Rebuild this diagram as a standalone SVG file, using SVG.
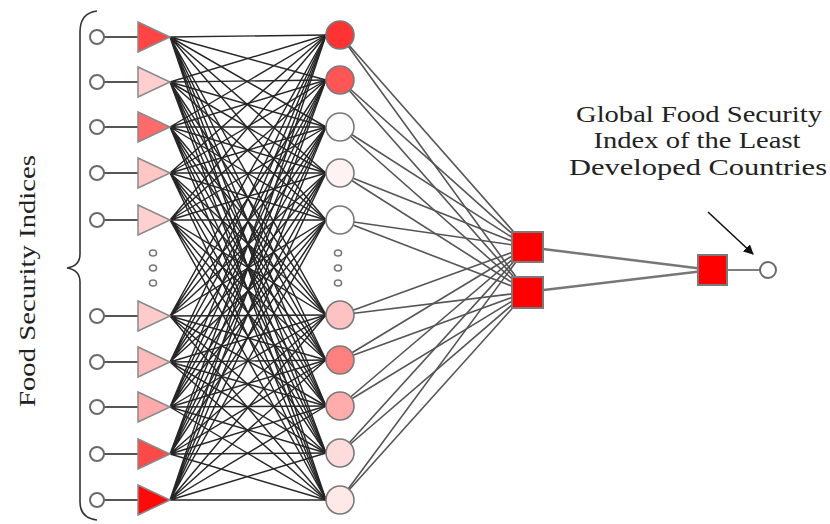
<svg xmlns="http://www.w3.org/2000/svg" width="830" height="524" viewBox="0 0 830 524">
<defs>
<style>
.lbl{font-family:"Liberation Serif","Times New Roman",serif;font-size:24px;fill:#222}
.in{fill:#fff;stroke:#6a6a6a;stroke-width:2}
.tri{stroke:#8a8a8a;stroke-width:1.5}
.hid{stroke:#7a7a7a;stroke-width:1.6}
.sq{fill:#ff0000;stroke:#7a7a7a;stroke-width:2}
.dot{fill:#fff;stroke:#777;stroke-width:1.6}
.w1{fill:none;stroke:#262626;stroke-width:1.45}
.w2{fill:none;stroke:#555;stroke-width:1.6}
.w3{fill:none;stroke:#777;stroke-width:2.5}
.w0{fill:none;stroke:#555;stroke-width:1.8}
</style>
<marker id="ah" markerWidth="10" markerHeight="10" refX="9" refY="5" orient="auto" markerUnits="userSpaceOnUse" viewBox="0 0 10 10">
<polygon points="0,0 10,5 0,10" fill="#111"/>
</marker>
</defs>
<rect width="830" height="524" fill="#fff"/>

<g id="connectors">
<path class="w0" d="M104 37 138 37M104 82 138 82M104 127 138 127M104 173 138 173M104 220 138 220M104 316 138 316M104 362 138 362M104 407 138 407M104 454 138 454M104 500 138 500"/>
<path class="w1" d="M170 37 326 35M170 37 326 80M170 37 326 127M170 37 326 173M170 37 326 220M170 37 326 315M170 37 326 360M170 37 326 406M170 37 326 453M170 37 326 500"/>
<path class="w1" d="M170 82 326 35M170 82 326 80M170 82 326 127M170 82 326 173M170 82 326 220M170 82 326 315M170 82 326 360M170 82 326 406M170 82 326 453M170 82 326 500"/>
<path class="w1" d="M170 127 326 35M170 127 326 80M170 127 326 127M170 127 326 173M170 127 326 220M170 127 326 315M170 127 326 360M170 127 326 406M170 127 326 453M170 127 326 500"/>
<path class="w1" d="M170 173 326 35M170 173 326 80M170 173 326 127M170 173 326 173M170 173 326 220M170 173 326 315M170 173 326 360M170 173 326 406M170 173 326 453M170 173 326 500"/>
<path class="w1" d="M170 220 326 35M170 220 326 80M170 220 326 127M170 220 326 173M170 220 326 220M170 220 326 315M170 220 326 360M170 220 326 406M170 220 326 453M170 220 326 500"/>
<path class="w1" d="M170 316 326 35M170 316 326 80M170 316 326 127M170 316 326 173M170 316 326 220M170 316 326 315M170 316 326 360M170 316 326 406M170 316 326 453M170 316 326 500"/>
<path class="w1" d="M170 362 326 35M170 362 326 80M170 362 326 127M170 362 326 173M170 362 326 220M170 362 326 315M170 362 326 360M170 362 326 406M170 362 326 453M170 362 326 500"/>
<path class="w1" d="M170 407 326 35M170 407 326 80M170 407 326 127M170 407 326 173M170 407 326 220M170 407 326 315M170 407 326 360M170 407 326 406M170 407 326 453M170 407 326 500"/>
<path class="w1" d="M170 454 326 35M170 454 326 80M170 454 326 127M170 454 326 173M170 454 326 220M170 454 326 315M170 454 326 360M170 454 326 406M170 454 326 453M170 454 326 500"/>
<path class="w1" d="M170 500 326 35M170 500 326 80M170 500 326 127M170 500 326 173M170 500 326 220M170 500 326 315M170 500 326 360M170 500 326 406M170 500 326 453M170 500 326 500"/>
<path class="w2" d="M340 35 527 247M340 80 527 247M340 127 527 247M340 173 527 247M340 220 527 247M340 315 527 247M340 360 527 247M340 406 527 247M340 453 527 247M340 500 527 247"/>
<path class="w2" d="M340 35 527 292M340 80 527 292M340 127 527 292M340 173 527 292M340 220 527 292M340 315 527 292M340 360 527 292M340 406 527 292M340 453 527 292M340 500 527 292"/>
<path class="w3" d="M527 247 712 270M527 292 712 270"/>
<path class="w2" d="M712 270 760 270"/>
<path fill="none" stroke="#111" stroke-width="1.6" d="M708 212 753 254" marker-end="url(#ah)"/>
</g>

<g id="brace"><path fill="none" stroke="#333" stroke-width="1.6" d="M97 11Q80 13 80 32L80 254Q80 266 67 268Q80 270 80 282L80 502Q80 518 97 520"/></g>

<g id="inputs">
<circle class="in" cx="97" cy="37" r="7"/><circle class="in" cx="97" cy="82" r="7"/><circle class="in" cx="97" cy="127" r="7"/><circle class="in" cx="97" cy="173" r="7"/><circle class="in" cx="97" cy="220" r="7"/>
<circle class="in" cx="97" cy="316" r="7"/><circle class="in" cx="97" cy="362" r="7"/><circle class="in" cx="97" cy="407" r="7"/><circle class="in" cx="97" cy="454" r="7"/><circle class="in" cx="97" cy="500" r="7"/>
</g>

<g id="triangles">
<polygon class="tri" fill="#ff4444" points="138,22 170,37 138,52"/>
<polygon class="tri" fill="#ffcfcf" points="138,67 170,82 138,97"/>
<polygon class="tri" fill="#ff6a6a" points="138,112 170,127 138,142"/>
<polygon class="tri" fill="#ffc6c6" points="138,158 170,173 138,188"/>
<polygon class="tri" fill="#ffd0d0" points="138,205 170,220 138,235"/>
<polygon class="tri" fill="#ffcaca" points="138,301 170,316 138,331"/>
<polygon class="tri" fill="#ffbcbc" points="138,347 170,362 138,377"/>
<polygon class="tri" fill="#ffaaaa" points="138,392 170,407 138,422"/>
<polygon class="tri" fill="#ff4848" points="138,439 170,454 138,469"/>
<polygon class="tri" fill="#ff0a0a" points="138,485 170,500 138,515"/>
</g>

<g id="dots-left"><ellipse class="dot" cx="153" cy="253" rx="3.5" ry="3"/><ellipse class="dot" cx="153" cy="268" rx="3.5" ry="3"/><ellipse class="dot" cx="153" cy="283" rx="3.5" ry="3"/></g>
<g id="dots-right"><ellipse class="dot" cx="338" cy="253" rx="3.5" ry="3"/><ellipse class="dot" cx="338" cy="268" rx="3.5" ry="3"/><ellipse class="dot" cx="338" cy="283" rx="3.5" ry="3"/></g>

<g id="hidden1">
<circle class="hid" cx="340" cy="35" r="14" fill="#ff3333"/>
<circle class="hid" cx="340" cy="80" r="14" fill="#ff5555"/>
<circle class="hid" cx="340" cy="127" r="14" fill="#fdfdfd"/>
<circle class="hid" cx="340" cy="173" r="14" fill="#fff2f2"/>
<circle class="hid" cx="340" cy="220" r="14" fill="#ffffff"/>
<circle class="hid" cx="340" cy="315" r="14" fill="#ffc2c2"/>
<circle class="hid" cx="340" cy="360" r="14" fill="#ff8080"/>
<circle class="hid" cx="340" cy="406" r="14" fill="#ffacac"/>
<circle class="hid" cx="340" cy="453" r="14" fill="#ffdcdc"/>
<circle class="hid" cx="340" cy="500" r="14" fill="#ffe8e8"/>
</g>

<g id="hidden2"><rect class="sq" x="512" y="232" width="31" height="30"/><rect class="sq" x="512" y="277" width="31" height="31"/></g>
<g id="output-node"><rect class="sq" x="698" y="255" width="29" height="30"/></g>
<g id="output"><circle class="in" cx="768" cy="270" r="8"/></g>

<g id="label-right">
<text class="lbl" x="699" y="122" text-anchor="middle" textLength="246" lengthAdjust="spacingAndGlyphs">Global Food Security</text>
<text class="lbl" x="697" y="148" text-anchor="middle" textLength="207" lengthAdjust="spacingAndGlyphs">Index of the Least</text>
<text class="lbl" x="698" y="175" text-anchor="middle" textLength="258" lengthAdjust="spacingAndGlyphs">Developed Countries</text>
</g>
<g id="label-left">
<text class="lbl" transform="translate(35 281) rotate(-90)" x="0" y="0" text-anchor="middle" textLength="252" lengthAdjust="spacingAndGlyphs">Food Security Indices</text>
</g>
</svg>
